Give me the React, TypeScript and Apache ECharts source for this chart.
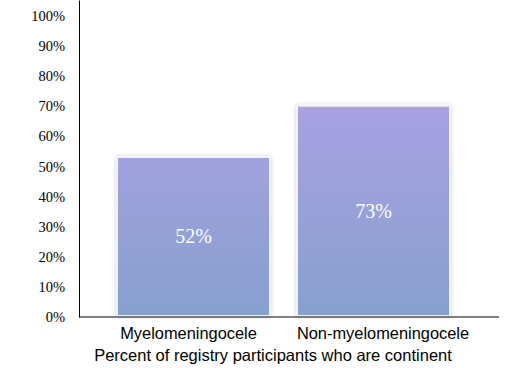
import React, { useEffect, useRef } from "react";
import * as echarts from "echarts";

const categories = ["Myelomeningocele", "Non-myelomeningocele"];
const barValues = [53.5, 70.5];
const valueLabels = ["52%", "73%"];
const yTicks = [0, 10, 20, 30, 40, 50, 60, 70, 80, 90, 100];
const axisTitle = "Percent of registry participants who are continent";

export default function App() {
  const ref = useRef<HTMLDivElement>(null);
  useEffect(() => {
    if (!ref.current) return;
    const chart = echarts.init(ref.current, null, { renderer: "svg" });
    const grad = {
      type: "linear",
      x: 0,
      y: 105,
      x2: 0,
      y2: 317,
      global: true,
      colorStops: [
        { offset: 0, color: "#A9A1E3" },
        { offset: 1, color: "#86A0CE" },
      ],
    };
    chart.setOption({
      animation: false,
      grid: { left: 103.5, right: 58.5, top: 1, bottom: 51 },
      xAxis: {
        type: "category",
        data: categories.map((c, i) => ({
          value: c,
          textStyle: { padding: i === 0 ? [0, 10, 0, 0] : [0, 0, 0, 19] },
        })),
        axisLine: { show: false },
        axisTick: { show: false },
        axisLabel: {
          interval: 0,
          color: "#000",
          fontFamily: "Liberation Sans",
          fontSize: 16.4,
          margin: 8,
        },
        name: axisTitle,
        nameLocation: "middle",
        nameGap: 29,
        nameTextStyle: {
          color: "#000",
          fontFamily: "Liberation Sans",
          fontSize: 16.5,
          padding: [0, 21, 0, 0],
        },
      },
      yAxis: {
        type: "value",
        min: 0,
        max: 105,
        interval: 10,
        offset: 24.5,
        axisLine: { show: true, lineStyle: { color: "#000", width: 1 } },
        axisTick: { show: false },
        splitLine: { show: false },
        axisLabel: {
          showMaxLabel: false,
          color: "#000",
          fontFamily: "Liberation Serif",
          fontSize: 14.5,
          margin: 14,
          padding: [0, 0, 3, 0],
          formatter: (v: number) => (yTicks.includes(v) ? v + "%" : ""),
        },
      },
      series: [
        {
          type: "bar",
          data: barValues,
          barWidth: 155,
          itemStyle: {
            color: grad,
            borderColor: "#F2F2F4",
            borderWidth: 2,
            shadowBlur: 4,
            shadowColor: "rgba(0,0,0,0.18)",
          },
          label: {
            show: true,
            position: "inside",
            color: "#fff",
            fontFamily: "Liberation Serif",
            fontSize: 20,
            formatter: (p: any) => valueLabels[p.dataIndex],
          },
        },
      ],
      graphic: [
        {
          type: "line",
          shape: { x1: 79, y1: 317, x2: 499, y2: 317 },
          style: { stroke: "#000", lineWidth: 1.2 },
          z: 10,
        },
      ],
    });
    return () => chart.dispose();
  }, []);
  return (
    <div
      ref={ref}
      style={{ position: "absolute", left: 0, top: 0, width: 522, height: 368 }}
    />
  );
}
